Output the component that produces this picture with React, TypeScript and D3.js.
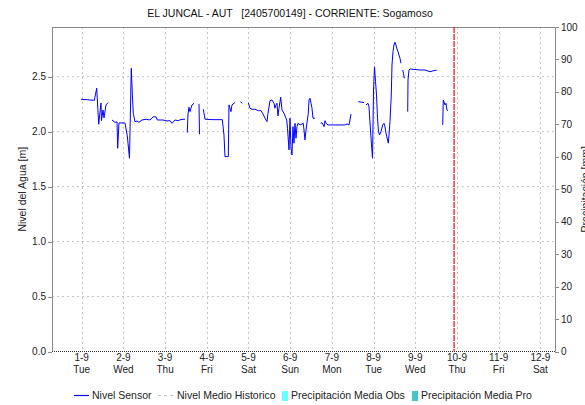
import React from "react";
import * as d3 from "d3";

const W = 585;
const H = 405;
const PLOT = { left: 52, right: 555, top: 27, bottom: 351.5 };

const titleText = "EL JUNCAL - AUT   [2405700149] - CORRIENTE: Sogamoso";
const leftAxisTitle = "Nivel del Agua [m]";
const rightAxisTitle = "Precipitación [mm]";

const dayTicks = [1, 2, 3, 4, 5, 6, 7, 8, 9, 10, 11, 12];
const dayDateLabels = ["1-9", "2-9", "3-9", "4-9", "5-9", "6-9", "7-9", "8-9", "9-9", "10-9", "11-9", "12-9"];
const dayNameLabels = ["Tue", "Wed", "Thu", "Fri", "Sat", "Sun", "Mon", "Tue", "Wed", "Thu", "Fri", "Sat"];

const levelTicks = [0, 0.5, 1.0, 1.5, 2.0, 2.5];
const precipTicks = [0, 10, 20, 30, 40, 50, 60, 70, 80, 90, 100];

const nowDay = 9.93;

// sensor series: day (1 = 1-9 00:00), level in m; null = gap
const sensorDays: (number | null)[] = [
  0.983, 1.302, 1.36, 1.408, 1.463, 1.475, 1.511, 1.535, 1.583, 1.631, null,
  1.727, 1.799, 1.847, 1.863, 1.894, 1.99, 2.038, 2.094, 2.146, 2.189, 2.213, 2.237, 2.278, 2.326, 2.374, 2.446, 2.542, 2.638, 2.686, 2.717, 2.782, 2.813, 2.878, 2.95, 3.046, 3.118, 3.165, 3.237, 3.317, 3.381, 3.477, null,
  3.532, 3.549, 3.573, 3.597, 3.621, 3.645, 3.693, null,
  3.813, 3.825, null,
  3.916, 3.933, 3.957, 4.149, 4.372, 4.412, 4.436, 4.516, 4.532, 4.58, 4.604, 4.652, 4.676, null,
  4.808, 4.844, null,
  4.995, 5.036, 5.084, 5.156, 5.235, 5.3, 5.348, 5.396, 5.444, 5.468, 5.516, 5.564, 5.612, 5.635, 5.659, 5.683, 5.707, 5.731, 5.772, 5.803, 5.851, 5.916, 5.935, 5.971, 5.995, 6.019, 6.043, 6.067, 6.091, 6.115, 6.139, 6.163, 6.187, 6.235, 6.314, 6.331, 6.355, 6.379, 6.434, 6.451, 6.475, 6.499, 6.523, 6.547, 6.595, null,
  6.731, 6.763, 6.811, 6.835, 6.859, 6.906, 7.314, 7.362, 7.41, 7.434, 7.458, null,
  7.633, 7.77, null,
  7.818, 7.866, 7.89, 7.902, 7.926, 7.95, 7.974, 7.998, 8.022, 8.046, 8.07, 8.094, 8.118, 8.142, 8.177, 8.218, 8.249, 8.273, 8.297, 8.353, 8.369, 8.393, 8.424, 8.441, 8.465, 8.489, 8.513, 8.537, 8.561, 8.585, 8.609, 8.633, 8.657, null,
  8.698, 8.717, 8.736, null,
  8.818, 8.825, 8.849, 8.873, 9.113, 9.233, 9.353, 9.472, 9.513, null,
  9.657, 9.671, 9.712, 9.736, 9.76, 9.784,
];
const sensorLevels: (number | null)[] = [
  2.295, 2.285, 2.395, 2.067, 2.261, 2.1, 2.197, 2.125, 2.243, 2.264, null,
  2.106, 2.085, 2.088, 1.849, 2.079, 2.079, 2.079, 1.961, 1.758, 2.576, 2.352, 2.167, 2.091, 2.097, 2.085, 2.106, 2.113, 2.106, 2.125, 2.136, 2.134, 2.106, 2.106, 2.106, 2.097, 2.1, 2.076, 2.106, 2.1, 2.111, 2.113, null,
  1.991, 2.161, 2.222, 2.182, 2.213, 2.243, 2.258, null,
  2.252, 1.976, null,
  2.204, 2.167, 2.113, 2.109, 2.109, 1.97, 1.773, 1.773, 2.243, 2.182, 2.243, 2.258, 2.264, null,
  2.273, 2.258, null,
  2.264, 2.213, 2.204, 2.204, 2.191, 2.191, 2.161, 2.122, 2.091, 2.167, 2.282, 2.288, 2.258, 2.213, 2.243, 2.258, 2.143, 2.213, 2.313, 2.197, 2.167, 2.106, 2.031, 1.834, 2.122, 1.849, 1.788, 2.045, 1.895, 2.076, 1.94, 2.045, 2.076, 2.061, 2.076, 2.015, 1.925, 2.015, 2.167, 2.288, 2.304, 2.258, 2.213, 2.122, 2.122, null,
  2.076, 2.082, 2.045, 2.1, 2.076, 2.061, 2.061, 2.07, 2.061, 2.106, 2.161, null,
  2.273, 2.264, null,
  2.243, 2.258, 2.227, 2.152, 2.015, 1.879, 1.758, 2.379, 2.591, 2.455, 2.334, 2.122, 2.0, 1.97, 2.0, 2.061, 2.076, 2.045, 1.985, 1.895, 1.97, 2.091, 2.334, 2.606, 2.727, 2.788, 2.813, 2.788, 2.752, 2.727, 2.697, 2.667, 2.622, null,
  2.561, 2.531, 2.485, null,
  2.182, 2.47, 2.561, 2.57, 2.561, 2.561, 2.545, 2.558, 2.558, null,
  2.061, 2.288, 2.243, 2.258, 2.197, 2.188,
];

const FONT = "'Liberation Sans', Arial, sans-serif";
const TXT = "#222";

export default function App() {
  const x = d3.scaleLinear().domain([0.288, 12.35]).range([PLOT.left, PLOT.right]);
  const yL = d3.scaleLinear().domain([0, 2.952]).range([PLOT.bottom, PLOT.top]);
  const yR = d3.scaleLinear().domain([0, 100]).range([PLOT.bottom, PLOT.top]);

  const pts = sensorDays.map((d, i) => ({ d, v: sensorLevels[i] }));
  const line = d3
    .line<{ d: number | null; v: number | null }>()
    .defined((p) => p.d != null && p.v != null)
    .x((p) => x(p.d as number))
    .y((p) => yL(p.v as number));

  const midY = (PLOT.top + PLOT.bottom) / 2;

  return (
    <svg
      width={W}
      height={H}
      style={{ position: "absolute", left: 0, top: 0, background: "#fff" }}
      fontFamily={FONT}
    >
      <rect x={0} y={0} width={W} height={H} fill="#fff" />
      <text x={290} y={17} textAnchor="middle" fontSize={10.5} fill="#111" style={{ whiteSpace: "pre" }}>
        {titleText}
      </text>

      {/* grid */}
      {levelTicks.filter((t) => t > 0).map((t) => (
        <line key={"hg" + t} x1={PLOT.left} x2={PLOT.right} y1={yL(t)} y2={yL(t)} stroke="#c4c4c4" strokeDasharray="2,3" />
      ))}
      {dayTicks.map((t) => (
        <line key={"vg" + t} x1={Math.round(x(t)) + 0.5} x2={Math.round(x(t)) + 0.5} y1={PLOT.top} y2={PLOT.bottom} stroke="#c4c4c4" strokeDasharray="2,3" />
      ))}

      {/* frame */}
      <line x1={PLOT.left + 0.5} x2={PLOT.left + 0.5} y1={PLOT.top} y2={PLOT.bottom} stroke="#8a8a8a" />
      <line x1={PLOT.right + 0.5} x2={PLOT.right + 0.5} y1={PLOT.top} y2={PLOT.bottom} stroke="#8a8a8a" />
      <line x1={PLOT.left} x2={PLOT.right} y1={PLOT.top + 0.5} y2={PLOT.top + 0.5} stroke="#8a8a8a" />
      <line x1={PLOT.left} x2={PLOT.right} y1={PLOT.bottom} y2={PLOT.bottom} stroke="#333" strokeDasharray="1,1" />

      {/* left axis */}
      {levelTicks.map((t) => (
        <g key={"la" + t}>
          <line x1={PLOT.left - 4} x2={PLOT.left} y1={Math.round(yL(t)) + 0.5} y2={Math.round(yL(t)) + 0.5} stroke="#8a8a8a" />
          <text x={PLOT.left - 6} y={yL(t)} dy="0.35em" textAnchor="end" fontSize={10} fill={TXT}>
            {t.toFixed(1)}
          </text>
        </g>
      ))}
      <text
        transform={`translate(26,${midY}) rotate(-90)`}
        textAnchor="middle"
        fontSize={10.5}
        fill={TXT}
      >
        {leftAxisTitle}
      </text>

      {/* right axis */}
      {precipTicks.map((t) => (
        <g key={"ra" + t}>
          <line x1={PLOT.right} x2={PLOT.right + 4} y1={Math.round(yR(t)) + 0.5} y2={Math.round(yR(t)) + 0.5} stroke="#8a8a8a" />
          <text x={PLOT.right + 6} y={yR(t)} dy="0.35em" textAnchor="start" fontSize={10} fill={TXT}>
            {t}
          </text>
        </g>
      ))}
      <text
        transform={`translate(589,${midY}) rotate(-90)`}
        textAnchor="middle"
        fontSize={10.5}
        fill={TXT}
      >
        {rightAxisTitle}
      </text>

      {/* bottom axis labels */}
      {dayTicks.map((t, i) => (
        <g key={"xa" + t}>
          <text x={x(t)} y={361} textAnchor="middle" fontSize={10} fill={TXT}>
            {dayDateLabels[i]}
          </text>
          <text x={x(t)} y={373} textAnchor="middle" fontSize={10} fill={TXT}>
            {dayNameLabels[i]}
          </text>
        </g>
      ))}

      {/* sensor line */}
      <path d={line(pts) || ""} fill="none" stroke="#0000ff" strokeWidth={1} />

      {/* now line */}
      <line x1={x(nowDay)} x2={x(nowDay)} y1={PLOT.top} y2={PLOT.bottom} stroke="#ff0000" strokeWidth={1.2} strokeDasharray="6,1" />

      {/* legend */}
      <line x1={74} x2={89} y1={395.5} y2={395.5} stroke="#0000ff" strokeWidth={1.2} />
      <line x1={158} x2={175} y1={395.5} y2={395.5} stroke="#c0c0c0" strokeDasharray="3,3" />
      <rect x={282} y={391} width={6} height={10} fill="#66ffff" />
      <rect x={412} y={391} width={6} height={10} fill="#40c8c8" />
      <g fontSize={10.5} fill={TXT}>
        <text x={92} y={399}>Nivel Sensor</text>
        <text x={177} y={399}>Nivel Medio Historico</text>
        <text x={291} y={399}>Precipitación Media Obs</text>
        <text x={421} y={399}>Precipitación Media Pro</text>
      </g>
    </svg>
  );
}
